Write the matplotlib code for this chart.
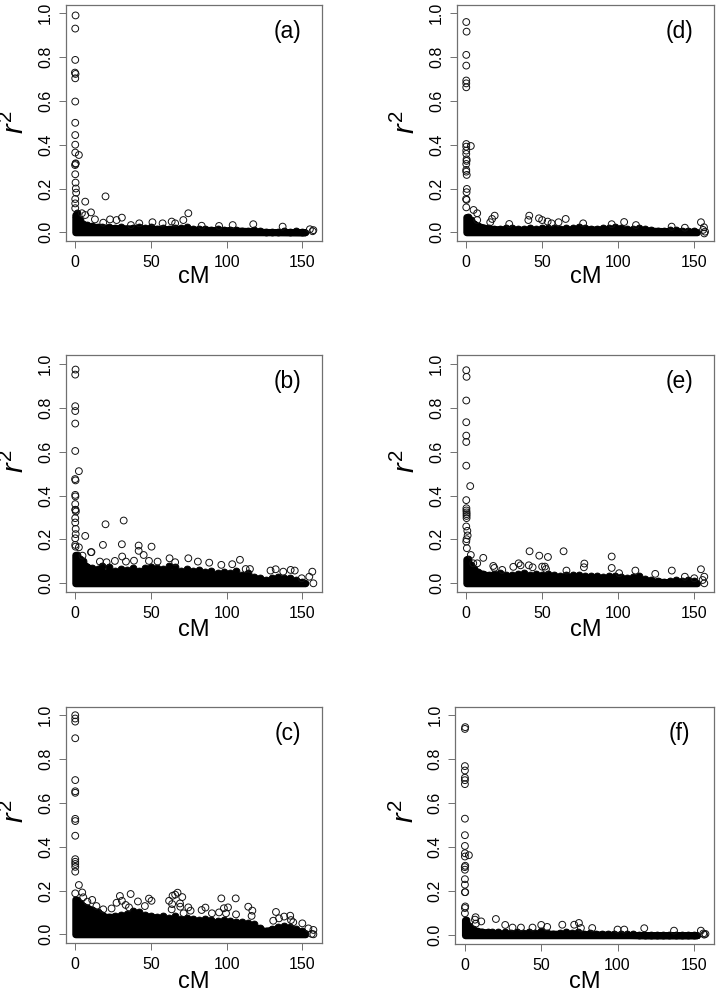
import numpy as np
import matplotlib
matplotlib.use("Agg")
import matplotlib.pyplot as plt

plt.rcParams['font.family'] = ['Liberation Sans', 'DejaVu Sans']
plt.rcParams['mathtext.fontset'] = 'custom'
plt.rcParams['mathtext.rm'] = 'Liberation Sans'
plt.rcParams['mathtext.it'] = 'Liberation Sans:italic'

# points that stand clear of the black band
a_x = [0.2, 0, 0, -0.2, 0.2, 0, 0, 0, 0, 0, 0, 2.4, 0.3, -0.1, 0.2, 0, 0.2, 0.4, 0.6, 0, 0, 0,
       6.6, 20, 10.4, 4.4, 6.6, 74.7, 30.8, 23, 27.3, 13, 71.4, 63.7, 66, 51, 57.7, 42.3, 36.8,
       83.5, 95, 104, 117.6, 137, 155, 156.8, 157.3, 18.5]
a_y = [.99, .93, .787, .729, .723, .703, .597, .50, .444, .40, .364, .353, .315, .307, .312, .265,
       .227, .20, .181, .152, .132, .11,
       .14, .164, .091, .087, .079, .087, .067, .059, .056, .059, .056, .049, .041, .046, .041,
       .041, .033, .03, .029, .033, .037, .026, .014, .005, .01, .044]
b_x = [.2, 0, 0, 0, 0, 0, -.1, .2, 0, .1, 0, 0, .2, .4, 0, 0, .3, .3, 0, 0, .2, 2.4,
       6.6, 20, 32, 30.8, 18.3, 41.9, 41.9, 45.2, 50.4, 2.4, 10.4, 10.7, 4.8, 31, 26.2, 38.8,
       33.5, 48.7, 54.4, 62.3, 74.7, 81, 88.5, 66, 96.5, 103.7, 108.8, 115.4, 112.6, 129, 132.4,
       137.4, 142.3, 145, 156.6, 154.6, 157.3, 149.6, 16.3, 20.7]
b_y = [.974, .951, .807, .785, .728, .603, .475, .469, .403, .396, .361, .335, .335, .327, .297,
       .277, .248, .224, .205, .175, .167, .511,
       .216, .269, .286, .178, .175, .172, .148, .129, .167, .164, .142, .142, .126, .122, .102,
       .103, .099, .102, .099, .114, .114, .099, .094, .096, .084, .087, .107, .065, .065, .058,
       .064, .053, .061, .058, .053, .03, 0, .023, .099, .096]
c_x = [0, 0, 0, 0, 0, 0, 0, 0, 0, 0, 0, 0, 0, 0, 0, 2.4, 0, 4.6, 5.3, 8, 11.2, 14, 29.5, 30.8, 27.3,
       36.6, 33.3, 41.4, 35.5, 48.7, 50.4, 46, 62, 64.3, 66, 67.6, 70.7, 69.2, 69.4, 64, 63.7,
       74.7, 76.2, 71.6, 96.5, 106, 83.5, 86, 90.3, 95, 98.2, 100.9, 99.6, 106.2, 114.3, 117,
       116.5, 132.6, 130.8, 134.6, 138, 142, 142.5, 144, 150, 154, 157.3, 156.2, 157.3, 18.5, 24]
c_y = [1.0, .985, .971, .895, .704, .653, .646, .527, .517, .45, .343, .331, .321, .308, .286, .225,
       .187, .191, .169, .149, .157, .129, .175, .153, .144, .184, .134, .15, .123, .163, .153,
       .129, .153, .176, .181, .19, .17, .141, .126, .138, .114, .123, .108, .096, .164, .164,
       .111, .122, .096, .1, .119, .123, .096, .091, .126, .108, .084, .102, .062, .073, .081,
       .085, .065, .055, .05, .027, .02, .002, 0, .114, .118]
d_x = [0, .2, 0, 0, 0, 0, 0, 0, 3, 0, 0, 0, .2, .2, 0, 0, 0, .3, .4, .2, -.1, .2, 0, 4.8, 7.2, 7.2,
       18.7, 17, 15.8, 41.5, 40.9, 47.9, 50, 53.6, 60.8, 65.5, 28.3, 56.2, 77, 104, 111.8, 95.8,
       135.3, 154.6, 156.6, 156, 156.8, 157.3, 144]
d_y = [.96, .916, .81, .761, .693, .68, .662, .403, .394, .391, .373, .358, .333, .326, .312, .285,
       .277, .262, .198, .183, .152, .148, .114, .102, .087, .056, .076, .061, .046, .076, .056,
       .064, .056, .049, .046, .061, .038, .041, .041, .047, .033, .037, .026, .046, .023, .011,
       -.005, .003, .021]
e_x = [0, .2, 0, 0, 0, 0, 0, 2.6, 0, .1, .1, .2, .2, .2, .2, 0, .7, .9, .2, 0, .4, 3,
       11.2, 41.7, 48.1, 53.8, 64.1, 95.8, 95.8, 77.8, 77.5, 34.5, 31, 35.8, 41.2, 17.8, 18.5,
       50, 51.8, 43.7, 52.5, 7.2, 4.6, 23.7, 111.4, 124.5, 135.4, 154.6, 156.8, 156.8, 155.7,
       144, 150.2, 100.7, 66]
e_y = [.971, .941, .833, .734, .673, .644, .536, .443, .379, .342, .332, .323, .315, .307, .297,
       .259, .239, .218, .201, .19, .16, .129,
       .116, .146, .126, .12, .146, .122, .07, .09, .073, .091, .075, .082, .082, .079, .07,
       .076, .076, .073, .065, .091, .091, .061, .058, .043, .058, .064, .03, 0, .015,
       .03, .023, .046, .058]
f_x = [.2, 0, 0, 0, 0, 0, 0, 0, 0, 0, 0, 2.6, 0, .2, -.1, 0, 0, 0, .2, 0, .2, 0, 0, 7, 6.6, 7.2, 10.7, 20.3,
       26.4, 31.2, 36.7, 44.3, 50, 53.9, 63.8, 71.6, 74.7, 76, 83.4, 100, 104.4, 117.5, 137, 154.6,
       156.8, 156.2, 157.6]
f_y = [.946, .938, .769, .749, .716, .705, .687, .53, .455, .406, .373, .364, .358, .316, .31, .298,
       .255, .23, .196, .196, .131, .124, .10, .082, .071, .053, .063, .074,
       .047, .035, .035, .035, .047, .038, .048, .048, .056, .033, .033, .026, .026, .032, .021,
       .021, .003, .008, .006]

# overlapping points along the top of the band
edge_x = [1, 3, 5, 8, 11, 15, 18, 22, 26, 30, 34, 38, 42, 46, 50, 54, 58, 62, 66, 70, 74, 78, 82,
          86, 90, 94, 98, 102, 106, 110, 114, 118, 122, 126, 130, 134, 138, 142, 146, 150]
a_edge_y = [.09, .055, .04, .034, .03, .026, .024, .022, .018, .022, .016, .018, .026, .02, .022, .016,
            .018, .014, .02, .018, .022, .016, .014, .016, .01, .014, .012, .012, .01, .008, .006, .012,
            .004, .002, .0, .002, .006, .002, .004, .002]
b_edge_y = [.13, .11, .10, .075, .07, .065, .08, .075, .055, .065, .06, .07, .055, .07, .075, .07,
            .065, .08, .075, .055, .065, .055, .06, .05, .055, .045, .05, .045, .055, .04, .045, .03,
            .025, .015, .025, .03, .025, .025, .015, .005]
c_edge_y = [.155, .145, .13, .12, .11, .10, .09, .08, .085, .09, .095, .105, .10, .09, .085, .08,
            .085, .075, .085, .07, .075, .07, .065, .07, .065, .06, .065, .06, .055, .055, .05, .045,
            .03, .015, .025, .035, .04, .035, .025, .015]
d_edge_y = [.07, .055, .04, .028, .02, .018, .016, .014, .018, .02, .016, .014, .018, .016, .018, .02,
            .018, .016, .018, .02, .022, .02, .014, .016, .018, .02, .022, .018, .016, .014, .018, .016,
            .01, .008, .006, .01, .012, .008, .008, .006]
e_edge_y = [.11, .085, .065, .05, .042, .038, .042, .047, .037, .037, .042, .047, .037, .042, .037, .042,
            .037, .035, .037, .037, .039, .035, .032, .032, .027, .035, .032, .027, .025, .027, .032, .02,
            .016, .01, .008, .01, .013, .012, .016, .01]
f_edge_y = [.07, .04, .028, .02, .016, .014, .016, .013, .014, .012, .014, .01, .014, .012, .018, .012,
            .008, .012, .014, .01, .013, .008, .01, .006, .004, .006, .004, .008, .006, .004, .002, .002,
            .0, .0, .0, .002, .0, .0, .002, .0]

# upper edge of the solid black band
a_band_x = [0, 3, 5, 10, 20, 40, 60, 80, 100, 115, 125, 135, 152]
a_band_y = [.08, .045, .035, .028, .02, .018, .015, .012, .01, .006, .002, .001, .0]
b_band_x = [0, 3, 5, 10, 20, 35, 50, 75, 100, 115, 125, 135, 145, 152]
b_band_y = [.13, .10, .09, .065, .05, .052, .057, .045, .038, .028, .012, .015, .008, .002]
c_band_x = [0, 5, 10, 15, 20, 30, 40, 50, 60, 75, 90, 100, 110, 120, 125, 130, 140, 152]
c_band_y = [.16, .13, .115, .10, .08, .08, .085, .08, .07, .06, .055, .055, .045, .03, .015, .022, .028, .006]
d_band_x = [0, 3, 7, 15, 30, 50, 75, 100, 120, 140, 152]
d_band_y = [.07, .05, .03, .016, .012, .012, .014, .012, .008, .004, .002]
e_band_x = [0, 3, 7, 15, 30, 50, 75, 100, 115, 130, 145, 152]
e_band_y = [.11, .08, .05, .035, .03, .03, .027, .02, .014, .006, .006, .002]
f_band_x = [0, 3, 7, 20, 50, 75, 100, 120, 152]
f_band_y = [.07, .035, .02, .008, .008, .006, .002, .0, .0]

x_ticks = [0, 50, 100, 150]
y_ticks = [0.0, 0.2, 0.4, 0.6, 0.8, 1.0]

W, H = 718, 992
fig = plt.figure(figsize=(W/100, H/100), dpi=100)

# pixel boxes of the panels (left, right, top, bottom), then pixel height of r2 and cM
panels = [
    ('(a)', a_x, a_y, a_edge_y, a_band_x, a_band_y, (65.7, 322.3, 4.7, 241.3), 122, 277),
    ('(b)', b_x, b_y, b_edge_y, b_band_x, b_band_y, (65.7, 322.3, 355.3, 592.3), 461, 630),
    ('(c)', c_x, c_y, c_edge_y, c_band_x, c_band_y, (65.7, 322.3, 706.7, 943.3), 811, 982),
    ('(d)', d_x, d_y, d_edge_y, d_band_x, d_band_y, (456.7, 714, 4.7, 241.3), 122, 277),
    ('(e)', e_x, e_y, e_edge_y, e_band_x, e_band_y, (456.7, 714, 355.3, 592.3), 461, 630),
    ('(f)', f_x, f_y, f_edge_y, f_band_x, f_band_y, (455.3, 714, 706.7, 944.3), 811, 982),
]

for name, xs, ys, ey, bx, by, box, r_py, cm_py in panels:
    l, r, t, b = box
    ax = fig.add_axes([l/W, 1 - b/H, (r - l)/W, (b - t)/H])
    # wide round edge stands in for the ring radius of the overlapping points
    ax.fill_between(bx, 0, by, facecolor='black', edgecolor='black', linewidth=5,
                    joinstyle='round', zorder=2)
    # along the edge the rings overlap so much that they read as solid
    ax.scatter(edge_x, ey, s=24, facecolors='black', edgecolors='black', linewidths=0.7, zorder=3)
    ax.scatter(xs, ys, s=24, facecolors='none', edgecolors='#111111', linewidths=0.7, zorder=4)
    ax.set_xlim(-6.3, 163.2)
    ax.set_ylim(-0.041, 1.039)
    ax.set_xticks(x_ticks)
    ax.set_yticks(y_ticks)
    ax.set_xticklabels([str(v) for v in x_ticks], fontsize=11.5)
    ax.set_yticklabels(['%.1f' % v for v in y_ticks], fontsize=11.5, rotation=90, va='center')
    ax.tick_params(axis='x', length=5, width=0.7, color='#707070', pad=5)
    ax.tick_params(axis='y', length=5, width=0.7, color='#707070', pad=4)
    for s in ax.spines.values():
        s.set_color('#707070')
        s.set_linewidth(0.9)
    ax.text(140.5, 0.918, name, fontsize=16.5, ha='center', va='center')
    # labels sit at pixel heights that differ from panel to panel
    fig.text((l + r)/2/W, 1 - cm_py/H, 'cM', fontsize=17, ha='center', va='center')
    fig.text((l - 50)/W, 1 - r_py/H, r'$\mathit{r}^{2}$', fontsize=21, rotation=90,
             ha='center', va='center')

fig.savefig('out.png', dpi=100)
